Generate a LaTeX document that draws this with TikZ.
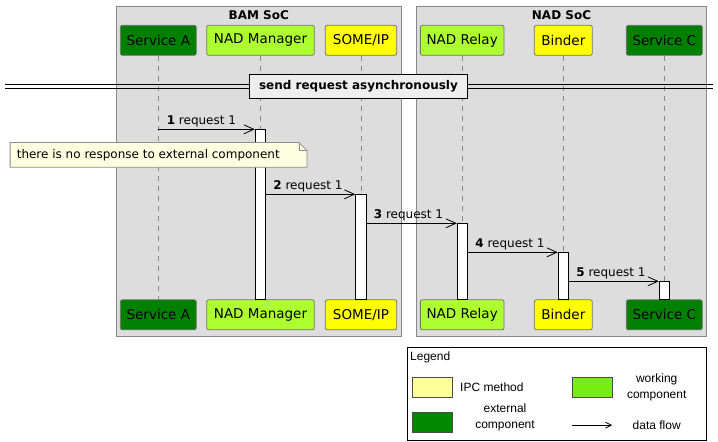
\documentclass[tikz,border=0pt]{standalone}
\usepackage{fontspec}
\setmainfont{DejaVu Sans}
\newfontfamily\legendfont{Liberation Sans}
\usetikzlibrary{arrows.meta}
\definecolor{boxbg}{HTML}{DDDDDD}
\definecolor{boxline}{HTML}{888888}
\definecolor{extgreen}{HTML}{008000}
\definecolor{workgreen}{HTML}{ADFF2F}
\definecolor{ipcyellow}{HTML}{FFFF00}
\definecolor{notefill}{HTML}{FEFEE0}
\definecolor{divfill}{HTML}{EEEEEE}
\definecolor{legyellow}{HTML}{FFFF99}
\definecolor{leggreen}{HTML}{77EE11}
\definecolor{legdark}{HTML}{008800}
\begin{document}
\begin{tikzpicture}[x=1pt,y=-1pt,
  grp/.style={draw=boxline, fill=boxbg, line width=0.9pt},
  grptitle/.style={font=\fontsize{12}{14}\selectfont\bfseries, inner sep=0pt},
  part/.style={draw=black!55, line width=0.8pt, rounded corners=2pt, minimum height=30pt, inner sep=0pt, font=\fontsize{13.5}{15}\selectfont},
  ext/.style={part, fill=extgreen},
  work/.style={part, fill=workgreen},
  ipc/.style={part, fill=ipcyellow},
  life/.style={draw=boxline, line width=0.8pt, dash pattern=on 5pt off 5pt},
  act/.style={draw=black, fill=white, line width=0.8pt, minimum width=10.5pt, inner sep=0pt, anchor=north},
  msg/.style={draw=black, line width=0.8pt, -{Straight Barb[length=10pt,width=9pt,line width=0.8pt]}},
  lbl/.style={font=\fontsize{12}{14}\selectfont, inner sep=0pt, anchor=base west},
  legtxt/.style={font=\legendfont\fontsize{12}{15.5}\selectfont, inner sep=0pt, align=center},
  swatch/.style={draw=black!70, line width=0.8pt, minimum width=40pt, minimum height=20pt, inner sep=0pt}
]
\useasboundingbox (0,0) rectangle (718,442);
\fill[white] (0,0) rectangle (718,442);

% group boxes
\draw[grp] (116.3,6.3) rectangle (401.3,336.7);
\draw[grp] (416.3,6.3) rectangle (706.7,336.7);
\node[grptitle] (bamt) at (258.8,15) {BAM SoC};
\node[grptitle] (nadt) at (561.5,15) {NAD SoC};

% participants top
\node[ext,  minimum width=76pt]  (saT) at (158.3,40.3) {Service A};
\node[work, minimum width=107.6pt] (nmT) at (260.5,40.3) {NAD Manager};
\node[ipc,  minimum width=71.4pt] (siT) at (361,40.3) {SOME/IP};
\node[work, minimum width=83.7pt] (nrT) at (462.2,40.3) {NAD Relay};
\node[ipc,  minimum width=58pt]  (biT) at (563.3,40.3) {Binder};
\node[ext,  minimum width=76pt]  (scT) at (664.3,40.3) {Service C};
% participants bottom
\node[ext,  minimum width=76pt]  (saB) at (158.3,314.8) {Service A};
\node[work, minimum width=107.6pt] (nmB) at (260.5,314.8) {NAD Manager};
\node[ipc,  minimum width=71.4pt] (siB) at (361,314.8) {SOME/IP};
\node[work, minimum width=83.7pt] (nrB) at (462.2,314.8) {NAD Relay};
\node[ipc,  minimum width=58pt]  (biB) at (563.3,314.8) {Binder};
\node[ext,  minimum width=76pt]  (scB) at (664.3,314.8) {Service C};

% lifelines
\draw[life] (saT.south) -- (saB.north);
\draw[life] (nmT.south) -- (nmB.north);
\draw[life] (siT.south) -- (siB.north);
\draw[life] (nrT.south) -- (nrB.north);
\draw[life] (biT.south) -- (biB.north);
\draw[life] (scT.south) -- (scB.north);

% divider
\coordinate (divL) at (5,86.5);
\coordinate (divR) at (712.5,86.5);
\draw[line width=0.9pt] ([yshift=1.8pt]divL) -- ([yshift=1.8pt]divR);
\draw[line width=0.9pt] ([yshift=-1.8pt]divL) -- ([yshift=-1.8pt]divR);
\node[draw=black, fill=divfill, line width=1.8pt, minimum width=218pt, minimum height=24pt, inner sep=0pt,
      font=\fontsize{12}{14}\selectfont\bfseries] (div) at (358.5,86.4) {send request asynchronously};

% activations
\node[act, minimum height=170pt] (aNM) at (260.5,129.3) {};
\node[act, minimum height=105pt] (aSI) at (361,194.3) {};
\node[act, minimum height=76pt]  (aNR) at (462.5,223.3) {};
\node[act, minimum height=47pt]  (aBI) at (563.5,252.3) {};
\node[act, minimum height=18pt]  (aSC) at (664.5,281.3) {};

% messages
\coordinate (m1s) at (saT.south |- aNM.north);
\coordinate (m2s) at (aNM.east |- aSI.north);
\coordinate (m3s) at (aSI.east |- aNR.north);
\coordinate (m4s) at (aNR.east |- aBI.north);
\coordinate (m5s) at (aBI.east |- aSC.north);
\draw[msg] (m1s) -- (aNM.north west);
\draw[msg] (m2s) -- (aSI.north west);
\draw[msg] (m3s) -- (aNR.north west);
\draw[msg] (m4s) -- (aBI.north west);
\draw[msg] (m5s) -- (aSC.north west);
\node[lbl] (l1) at ([xshift=8.3pt,yshift=4.6pt]m1s) {\textbf{1} request 1};
\node[lbl] (l2) at ([xshift=7pt,yshift=4.6pt]m2s) {\textbf{2} request 1};
\node[lbl] (l3) at ([xshift=7pt,yshift=4.6pt]m3s) {\textbf{3} request 1};
\node[lbl] (l4) at ([xshift=7pt,yshift=4.6pt]m4s) {\textbf{4} request 1};
\node[lbl] (l5) at ([xshift=7pt,yshift=4.6pt]m5s) {\textbf{5} request 1};

% note
\node[minimum width=296.4pt, minimum height=24.4pt, inner sep=0pt] (note) at (158.5,154.9) {};
\draw[draw=black!45, fill=notefill, line width=0.8pt]
  (note.south west) -- (note.north west) -- ([xshift=-8pt]note.north east)
  -- ([yshift=-8pt]note.north east) -- (note.south east) -- cycle;
\draw[draw=black!45, line width=0.8pt]
  ([xshift=-8pt]note.north east) -- ([xshift=-8pt,yshift=-8pt]note.north east) -- ([yshift=-8pt]note.north east);
\node[font=\fontsize{12}{14}\selectfont, anchor=west, inner sep=0pt] (notetxt) at ([xshift=6.5pt]note.west) {there is no response to external component};

% legend
\draw[draw=black, line width=0.9pt] (407.3,347.3) rectangle (706.7,440.5);
\node[legtxt, anchor=west] (legt) at (410,357.5) {Legend};
\node[swatch, fill=legyellow] (swY) at (432.3,387.3) {};
\node[legtxt, anchor=west] (tY) at (460,387.3) {IPC method};
\node[swatch, fill=leggreen] (swG) at (592.5,387.3) {};
\node[legtxt] (tG) at (656.7,387.2) {working\\component};
\node[swatch, fill=legdark] (swD) at (432.3,422.3) {};
\node[legtxt] (tD) at (505,417.5) {external\\component};
\coordinate (arS) at (572.3,425.2);
\coordinate (arE) at (612.3,425.2);
\draw[line width=0.8pt, -{Straight Barb[length=6pt,width=6pt,line width=0.8pt]}] (arS) -- (arE);
\node[legtxt] (tA) at (656.7,425.7) {data flow};
\end{tikzpicture}
\end{document}
